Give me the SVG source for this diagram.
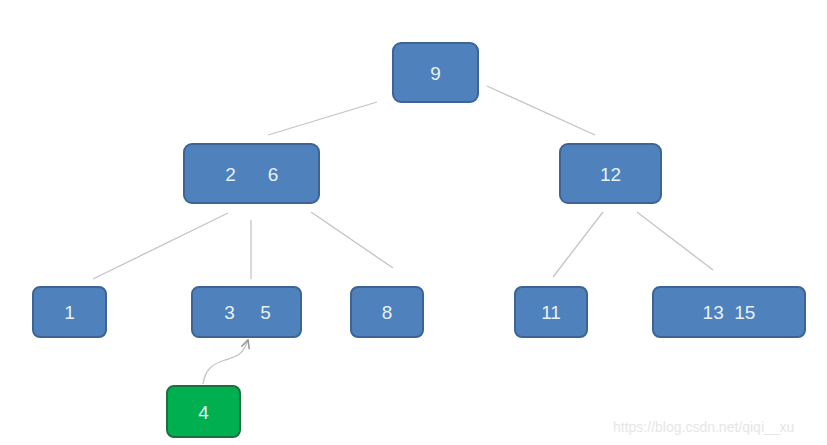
<svg xmlns="http://www.w3.org/2000/svg" width="827" height="445" viewBox="0 0 827 445">
<style>
.n rect{fill:#4f81bd;stroke:#3c6495;stroke-width:2}
.g rect{fill:#00b050;stroke:#1f6e3d;stroke-width:2}
text{font-family:"Liberation Sans",Arial,sans-serif;font-size:19px;fill:#e4f2f8;text-anchor:middle}
.c line,.c path{stroke:#c4c4c4;stroke-width:1.3;fill:none}
.wm{font-size:14px;fill:#e6e6e6;text-anchor:start}
</style>
<defs>
<marker id="ah" viewBox="0 0 10 10" refX="9" refY="5" markerWidth="8" markerHeight="8" orient="auto">
<path d="M1,1 L9,5 L1,9" fill="none" stroke="#9a9a9a" stroke-width="1.5"/>
</marker>
</defs>
<rect width="827" height="445" fill="#ffffff"/>
<g class="c">
<line x1="377" y1="102" x2="268" y2="135"/>
<line x1="487" y1="86" x2="595" y2="135"/>
<line x1="228" y1="213" x2="93" y2="279"/>
<line x1="251" y1="220" x2="251" y2="279"/>
<line x1="311" y1="212" x2="393" y2="268"/>
<line x1="603" y1="212" x2="553" y2="277"/>
<line x1="637" y1="212" x2="713" y2="270"/>
<path d="M203,384 C205,370 212,364 225,360 C240,356 244,352 248,340" stroke="#a0a0a0" marker-end="url(#ah)"/>
</g>
<g id="n9" class="n"><rect x="393" y="43" width="85" height="59" rx="8"/><text x="435.5" y="80">9</text></g>
<g id="n26" class="n"><rect x="184" y="144" width="135" height="59" rx="8"/><text x="230.5" y="181">2</text><text x="273" y="181">6</text></g>
<g id="n12" class="n"><rect x="560" y="144" width="101" height="59" rx="8"/><text x="610.5" y="181">12</text></g>
<g id="n1" class="n"><rect x="33" y="287" width="73" height="50" rx="7"/><text x="69.5" y="319">1</text></g>
<g id="n35" class="n"><rect x="192" y="287" width="109" height="50" rx="7"/><text x="229.5" y="319">3</text><text x="265.5" y="319">5</text></g>
<g id="n8" class="n"><rect x="351" y="287" width="72" height="50" rx="7"/><text x="387" y="319">8</text></g>
<g id="n11" class="n"><rect x="515" y="287" width="72" height="50" rx="7"/><text x="551" y="319">11</text></g>
<g id="n1315" class="n"><rect x="653" y="287" width="152" height="50" rx="7"/><text x="729" y="319" xml:space="preserve">13  15</text></g>
<g id="n4" class="g"><rect x="167" y="386" width="73" height="51" rx="7"/><text x="203.5" y="419">4</text></g>
<text class="wm" x="613" y="432">https://blog.csdn.net/qiqi__xu</text>
</svg>
